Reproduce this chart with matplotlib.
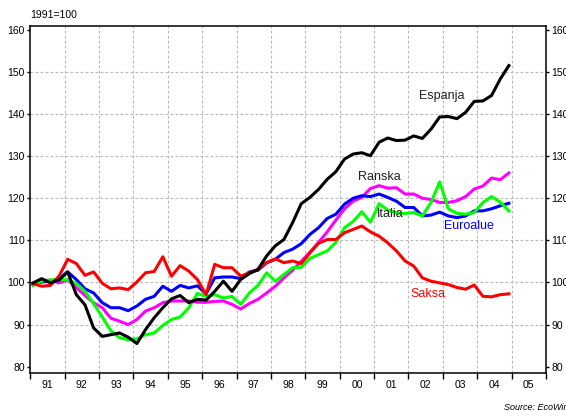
import numpy as np
import matplotlib
matplotlib.use("Agg")
import matplotlib.pyplot as plt
from matplotlib.ticker import FixedLocator, NullFormatter, FixedFormatter

plt.rcParams['font.family'] = ['Liberation Sans', 'DejaVu Sans']

# Quarterly observations 1991Q1 .. 2004Q4 (index 1991=100)
quarters = np.linspace(1991.08, 2004.92, 56)

espanja = [99.9, 100.9, 99.9, 100.6, 102.5, 97.1, 94.7, 89.2, 87.2, 87.6,
           88.0, 87.0, 85.5, 88.8, 91.6, 94.0, 96.1, 96.9, 95.2, 96.0,
           95.8, 97.9, 100.3, 97.9, 100.7, 102.1, 103.1, 106.3, 108.7, 110.2,
           114.2, 118.7, 120.2, 122.1, 124.5, 126.3, 129.3, 130.5, 130.8, 130.1,
           133.3, 134.3, 133.7, 133.8, 134.8, 134.2, 136.4, 139.3, 139.4, 138.9,
           140.4, 143.0, 143.1, 144.4, 148.3, 151.5]

saksa = [99.7, 99.1, 99.3, 101.5, 105.5, 104.5, 101.7, 102.5, 99.8, 98.5,
         98.7, 98.3, 100.1, 102.3, 102.6, 106.1, 101.5, 104.0, 102.7, 100.7,
         97.1, 104.3, 103.5, 103.5, 101.5, 102.3, 103.1, 104.7, 105.6, 104.7,
         105.1, 104.5, 107.0, 109.3, 110.2, 110.2, 111.8, 112.6, 113.4, 112.0,
         111.0, 109.4, 107.5, 105.1, 103.9, 101.1, 100.3, 99.9, 99.5, 98.8,
         98.4, 99.4, 96.7, 96.6, 97.1, 97.3]

euroalue = [99.5, 100.1, 100.3, 100.9, 102.5, 100.7, 98.5, 97.5, 95.2, 94.0,
            94.0, 93.3, 94.4, 96.0, 96.7, 99.1, 97.9, 99.3, 98.7, 99.2,
            97.3, 101.1, 101.3, 101.3, 100.9, 102.5, 102.9, 104.7, 105.5, 107.1,
            107.9, 109.2, 111.4, 113.0, 115.2, 116.2, 118.6, 120.0, 120.6, 120.4,
            121.0, 120.2, 119.3, 117.8, 117.8, 115.8, 116.0, 116.7, 115.8, 115.4,
            115.8, 117.0, 117.0, 117.5, 118.2, 118.8]

ranska = [99.6, 100.5, 100.5, 99.9, 100.6, 98.8, 96.9, 95.2, 94.0, 91.5,
          90.8, 90.0, 91.2, 93.2, 94.0, 95.2, 95.6, 95.6, 95.6, 95.3,
          95.3, 95.5, 95.6, 94.8, 93.7, 95.0, 96.0, 97.5, 99.1, 101.1,
          102.9, 105.0, 107.2, 109.5, 112.0, 114.8, 117.5, 119.3, 120.2, 122.3,
          123.0, 122.4, 122.5, 121.0, 121.0, 120.0, 119.7, 119.0, 119.0, 119.4,
          120.4, 122.2, 122.9, 124.8, 124.4, 126.0]

italia = [99.3, 100.3, 100.6, 100.7, 100.6, 99.8, 97.9, 95.0, 91.8, 88.5,
          86.9, 86.4, 86.6, 87.6, 88.0, 89.8, 91.2, 91.8, 94.0, 97.4,
          96.7, 97.1, 96.3, 96.7, 94.8, 97.5, 99.3, 102.3, 100.3, 101.9,
          103.5, 103.6, 105.7, 106.6, 107.5, 109.5, 113.0, 114.5, 116.8, 114.3,
          118.7, 117.2, 116.5, 116.4, 116.6, 115.8, 119.0, 123.9, 117.5, 116.4,
          116.2, 116.6, 119.0, 120.4, 119.1, 117.0]

year_edges = list(range(1991, 2007))
year_labels = ['91', '92', '93', '94', '95', '96', '97', '98', '99', '00',
               '01', '02', '03', '04', '05']
y_ticks = [80, 90, 100, 110, 120, 130, 140, 150, 160]

fig = plt.figure(figsize=(5.66, 4.16), dpi=100)
ax = fig.add_axes([30.3 / 566, 1 - 373 / 416, (546 - 30.3) / 566, (373 - 26) / 416])

lw = 2.2
ax.plot(quarters, ranska, color='#ff00ff', lw=lw, zorder=3)
ax.plot(quarters, euroalue, color='#0000ff', lw=lw, zorder=4)
ax.plot(quarters, italia, color='#00ff00', lw=lw, zorder=4)
ax.plot(quarters, saksa, color='#ff0000', lw=lw, zorder=5)
ax.plot(quarters, espanja, color='#000000', lw=lw, zorder=6)

ax.set_xlim(1991, 2006)
ax.set_ylim(78.5, 160.9)

# grid
for yv in y_ticks[1:-1]:
    ax.axhline(yv, color='#b8b8b8', lw=0.8, ls=(0, (2.5, 2)), zorder=1)
for xv in year_edges[1:-1]:
    ax.axvline(xv, color='#b8b8b8', lw=0.8, ls=(0, (2.5, 2)), zorder=1)

ax.xaxis.set_major_locator(FixedLocator(year_edges))
ax.xaxis.set_major_formatter(NullFormatter())
ax.xaxis.set_minor_locator(FixedLocator([y + 0.5 for y in year_edges[:-1]]))
ax.xaxis.set_minor_formatter(FixedFormatter(year_labels))
ax.tick_params(axis='x', which='major', direction='out', length=4, width=1.0)
ax.tick_params(axis='x', which='minor', length=0, pad=5, labelsize=7.5)

ax.set_yticks(y_ticks)
ax.tick_params(axis='y', which='major', direction='out', length=2.5, width=1.0,
               labelsize=7.5, pad=1.5, left=True, right=True,
               labelleft=True, labelright=True)

for sp in ax.spines.values():
    sp.set_linewidth(1.1)

txt = dict(fontsize=9, ha='center', va='center', zorder=7)
ax.text(2002.96, 144.2, 'Espanja', color='#202020', **txt)
ax.text(2001.16, 125.0, 'Ranska', color='#202020', **txt)
ax.text(2001.46, 116.3, 'Italia', color='#202020', **txt)
ax.text(2003.76, 113.3, 'Euroalue', color='#0000ff', **txt)
ax.text(2002.58, 97.2, 'Saksa', color='#ff0000', **txt)

fig.text(30.5 / 566, 1 - 14.5 / 416, '1991=100', fontsize=7.5, ha='left', va='center')
fig.text(504 / 566, 1 - 408 / 416, 'Source: EcoWin', fontsize=6.5, style='italic',
         ha='left', va='center')

fig.savefig('out.png', dpi=100)
